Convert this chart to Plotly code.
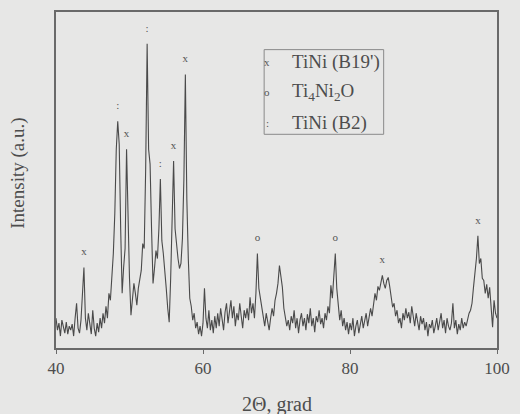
import plotly.graph_objects as go

# 2-theta scan: start 40.0, step 0.2 deg, 301 points up to 100.0
theta_start = 40.0
theta_step = 0.2

intensity = [
    # 40.0 - 41.8
    30, 18, 25, 12, 28, 20, 15, 26, 14, 22,
    # 42.0 - 43.8
    18, 24, 12, 30, 45, 20, 15, 28, 50, 81,
    # 44.0 - 45.8
    30, 18, 35, 22, 14, 38, 20, 12, 25, 16,
    # 46.0 - 47.8
    30, 20, 35, 25, 42, 30, 55, 48, 70, 95,
    # 48.0 - 49.8
    135, 200, 228, 205, 120, 55, 81, 100, 200, 130,
    # 50.0 - 51.8
    70, 33, 50, 65, 55, 43, 60, 70, 78, 105,
    # 52.0 - 53.8
    100, 180, 306, 200, 185, 120, 65, 80, 98, 90,
    # 54.0 - 55.8
    120, 170, 108, 95, 81, 60, 40, 26, 70, 120,
    # 56.0 - 57.8
    188, 120, 101, 90, 80, 85, 110, 170, 275, 150,
    # 58.0 - 59.8
    90, 50, 42, 28, 35, 20, 26, 14, 22, 12,
    # 60.0 - 61.8
    25, 60, 30, 20, 38, 18, 28, 15, 32, 20,
    # 62.0 - 63.8
    35, 22, 40, 28, 18, 36, 45, 25, 38, 48,
    # 64.0 - 65.8
    30, 42, 22, 35, 28, 45, 32, 20, 38, 30,
    # 66.0 - 67.8
    40, 28, 51, 35, 45, 30, 55, 95, 60, 51,
    # 68.0 - 69.8
    40, 30, 22, 35, 25, 18, 30, 40, 32, 48,
    # 70.0 - 71.8
    55, 65, 83, 70, 61, 40, 30, 22, 28, 18,
    # 72.0 - 73.8
    32, 25, 38, 20, 30, 15, 28, 35, 22, 30,
    # 74.0 - 75.8
    18, 34, 25, 40, 22, 30, 16, 32, 26, 38,
    # 76.0 - 77.8
    24, 30, 20, 35, 28, 42, 35, 63, 50, 70,
    # 78.0 - 79.8
    95, 60, 45, 28, 38, 22, 30, 18, 26, 14,
    # 80.0 - 81.8
    25, 18, 30, 12, 22, 28, 15, 24, 32, 20,
    # 82.0 - 83.8
    28, 35, 22, 30, 40, 32, 45, 55, 48, 62,
    # 84.0 - 85.8
    58, 68, 73, 65, 60, 68, 71, 62, 50, 41,
    # 86.0 - 87.8
    45, 32, 38, 25, 30, 20, 35, 28, 40, 30,
    # 88.0 - 89.8
    36, 25, 42, 30, 22, 35, 28, 18, 32, 24,
    # 90.0 - 91.8
    30, 18, 26, 12, 24, 20, 28, 15, 22, 30,
    # 92.0 - 93.8
    18, 26, 35, 20, 28, 15, 30, 22, 18, 25,
    # 94.0 - 95.8
    45, 20, 28, 14, 24, 18, 30, 20, 26, 22,
    # 96.0 - 97.8
    30, 35, 38, 45, 61, 75, 90, 113, 85, 90,
    # 98.0 - 99.8
    70, 68, 55, 64, 50, 61, 40, 21, 48, 35,
    # 100.0
    30,
]

two_theta = [round(theta_start + i * theta_step, 1) for i in range(len(intensity))]

# phase identification marks above peaks
peak_pos = [43.8, 48.4, 49.6, 52.4, 54.2, 56.0, 57.6, 67.4, 78.0, 84.4, 97.4]
peak_phase = ["B19", "B2", "B19", "B2", "B2", "B19", "B19", "O", "O", "B19", "B19"]

phase_symbol = {"B19": "x", "O": "o", "B2": ":"}
phase_names = ["TiNi (B19')", "Ti<sub>4</sub>Ni<sub>2</sub>O", "TiNi (B2)"]
phase_keys = ["B19", "O", "B2"]

x_ticks = [40, 60, 80, 100]
x_title = "2Θ, grad"
y_title = "Intensity (a.u.)"

SERIF = "Liberation Serif, Times New Roman, serif"
TXT = "#4d4d4d"
BG = "#e7e7e6"

fig = go.Figure()
fig.add_trace(go.Scatter(
    x=two_theta, y=intensity, mode="lines",
    line=dict(color="#4a4a4a", width=1.1), showlegend=False, hoverinfo="skip",
))

# marks above peaks: y from the data maximum near each peak
mark_y = []
for p in peak_pos:
    local = [v for t, v in zip(two_theta, intensity) if abs(t - p) <= 0.21]
    mark_y.append(max(local) + 15)
fig.add_trace(go.Scatter(
    x=peak_pos, y=mark_y, mode="text",
    text=[phase_symbol[k] for k in peak_phase],
    textfont=dict(family=SERIF, size=11, color="#555"),
    showlegend=False, hoverinfo="skip",
))

# manual legend
L, R, T, B = 0.472, 0.743, 0.888, 0.636
fig.add_shape(type="rect", xref="paper", yref="paper", x0=L, x1=R, y0=B, y1=T,
              line=dict(color="#8a8a8a", width=1))
row_y = [0.852, 0.763, 0.669]
for k, name, yy in zip(phase_keys, phase_names, row_y):
    fig.add_annotation(xref="paper", yref="paper", x=0.479, y=yy, text=phase_symbol[k],
                       showarrow=False, xanchor="center", yanchor="middle",
                       font=dict(family=SERIF, size=11, color="#555"))
    fig.add_annotation(xref="paper", yref="paper", x=0.530, y=yy, text=name,
                       showarrow=False, xanchor="left", yanchor="middle",
                       font=dict(family=SERIF, size=19, color=TXT))

fig.add_annotation(xref="paper", yref="paper", x=0.5, y=-0.169, text=x_title,
                   showarrow=False, xanchor="center", yanchor="middle",
                   font=dict(family=SERIF, size=20, color=TXT))
fig.add_annotation(xref="paper", yref="paper", x=-0.085, y=0.52, text=y_title,
                   showarrow=False, textangle=-90, xanchor="center", yanchor="middle",
                   font=dict(family=SERIF, size=19, color=TXT))

fig.update_layout(
    width=520, height=414,
    margin=dict(l=56, r=17, t=10, b=66),
    paper_bgcolor=BG, plot_bgcolor=BG,
    showlegend=False,
)
fig.update_xaxes(
    range=[40, 100], tickvals=x_ticks, ticktext=[str(t) for t in x_ticks],
    showline=True, mirror=True, linecolor="#6a6a6a", linewidth=1.5,
    ticks="outside", ticklen=4, tickcolor="#6a6a6a",
    showgrid=False, zeroline=False,
    tickfont=dict(family=SERIF, size=17, color=TXT),
)
fig.update_yaxes(
    range=[0, 338], showticklabels=False, ticks="",
    showline=True, mirror=True, linecolor="#6a6a6a", linewidth=1.5,
    showgrid=False, zeroline=False,
)

fig.write_html(
    "out.html",
    config={"displayModeBar": False},
    post_script="document.body.style.margin='0px';document.body.style.background='" + BG + "';",
)
